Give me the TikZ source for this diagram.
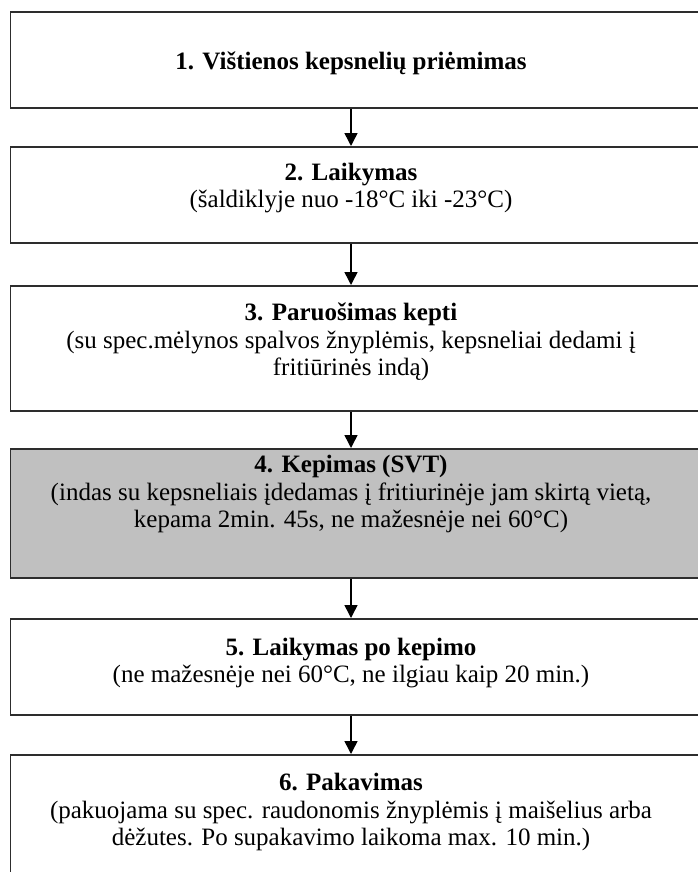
\documentclass[tikz,border=0pt]{standalone}
\usepackage{fontspec}
\setmainfont{Liberation Serif}
\usetikzlibrary{arrows.meta}
\definecolor{boxgray}{RGB}{192,192,192}
\definecolor{edge}{RGB}{45,45,45}
\tikzset{
  stepbox/.style={draw=edge, line width=1.8pt, rectangle, inner sep=0pt, anchor=north west},
  steplabel/.style={align=center, inner sep=0pt, font=\fontsize{25}{27.5}\selectfont},
  flowarrow/.style={draw=black, line width=1.5pt, -{Triangle[width=13pt,length=13pt]}}
}
\begin{document}
\begin{tikzpicture}[x=1pt,y=-1pt]
\useasboundingbox (0,0) rectangle (698,872);
\clip (0,0) rectangle (698,872);
% boxes
\node[stepbox, minimum width=720pt, minimum height=96pt] (b1) at (9.5,11) {};
\node[stepbox, minimum width=720pt, minimum height=96pt] (b2) at (9.5,146) {};
\node[stepbox, minimum width=720pt, minimum height=125pt] (b3) at (9.5,285) {};
\node[stepbox, fill=boxgray, minimum width=720pt, minimum height=129pt] (b4) at (9.5,448) {};
\node[stepbox, minimum width=720pt, minimum height=96pt] (b5) at (9.5,618) {};
\node[stepbox, minimum width=720pt, minimum height=160pt] (b6) at (9.5,754) {};
% labels
\node[steplabel] (l1) at (351,63) {\textbf{1. Vištienos kepsnelių priėmimas}};
\node[steplabel] (l2) at (351,188) {\textbf{2. Laikymas}\\(šaldiklyje nuo -18°C iki -23°C)};
\node[steplabel] (l3) at (351,342) {\textbf{3. Paruošimas kepti}\\(su spec.mėlynos spalvos žnyplėmis, kepsneliai dedami į\\fritiūrinės indą)};
\node[steplabel] (l4) at (351,494) {\textbf{4. Kepimas (SVT)}\\(indas su kepsneliais įdedamas į fritiurinėje jam skirtą vietą,\\kepama 2min. 45s, ne mažesnėje nei 60°C)};
\node[steplabel] (l5) at (351,663) {\textbf{5. Laikymas po kepimo}\\(ne mažesnėje nei 60°C, ne ilgiau kaip 20 min.)};
\node[steplabel] (l6) at (351,812) {\textbf{6. Pakavimas}\\(pakuojama su spec. raudonomis žnyplėmis į maišelius arba\\dėžutes. Po supakavimo laikoma max. 10 min.)};
% arrows
\draw[flowarrow] (b1.south -| l1) -- (b2.north -| l1);
\draw[flowarrow] (b2.south -| l1) -- (b3.north -| l1);
\draw[flowarrow] (b3.south -| l1) -- (b4.north -| l1);
\draw[flowarrow] (b4.south -| l1) -- (b5.north -| l1);
\draw[flowarrow] (b5.south -| l1) -- (b6.north -| l1);
\end{tikzpicture}
\end{document}
